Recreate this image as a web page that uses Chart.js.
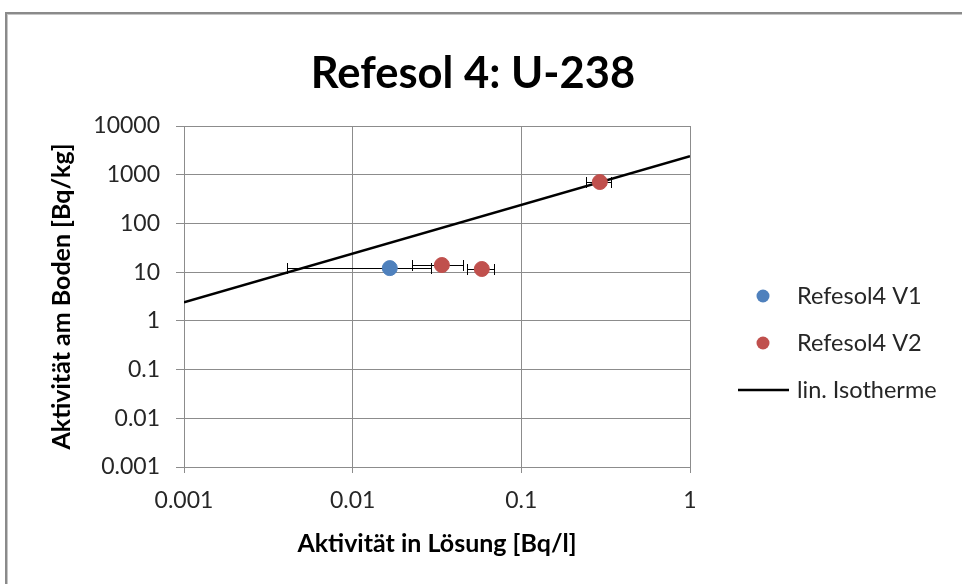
<html><head>
<meta charset="UTF-8">
<title>Refesol 4: U-238</title>
<script src="https://cdn.jsdelivr.net/npm/chart.js"></script>
<style>
html, body {
  margin: 0;
  padding: 0;
  background: #ffffff;
}

#wrap {
  position: relative;
  width: 962px;
  height: 584px;
  overflow: hidden;
}

#wrap canvas {
  position: absolute;
  left: 0;
  top: 0;
}

.frame {
  position: absolute;
  left: 5px;
  top: 12px;
  width: 1200px;
  height: 1200px;
  border-top: 2px solid #8a8a8a;
  border-left: 2px solid #8a8a8a;
  box-shadow: inset 1px 1px 0 #c6c6c6;
  pointer-events: none;
}
</style>
</head>
<body>

<div id="wrap">
  <canvas id="chart" width="962" height="584"></canvas>
  <div class="frame"></div>
</div>

<script>
const FONT = 'Lato, "Open Sans", sans-serif';
const TEXT = '#262626';
const GRID = '#8c8c8c';

const titleText = 'Refesol 4: U-238';
const xTitle = 'Aktivität in Lösung [Bq/l]';
const yTitle = 'Aktivität am Boden [Bq/kg]';

// axis ticks (decades)
const xTicks = [0.001, 0.01, 0.1, 1];
const yTicks = [0.001, 0.01, 0.1, 1, 10, 100, 1000, 10000];

// Refesol4 V1
const v1X = [0.0166];
const v1Y = [12.1];
const v1XErr = [0.0125];

// Refesol4 V2
const v2X = [0.0338, 0.0583, 0.292];
const v2Y = [14.0, 11.6, 708];
const v2XErr = [0.0113, 0.0105, 0.05];

// lin. Isotherme
const isoX = [0.001, 1];
const isoY = [2.4, 2400];

const toPoints = (xs, ys) => xs.map((x, i) => ({ x: x, y: ys[i] }));

// horizontal error bars, drawn under the markers
const errorBars = {
  id: 'errorBars',
  beforeDatasetsDraw(chart) {
    const { ctx, scales: { x, y } } = chart;
    ctx.save();
    ctx.strokeStyle = '#000';
    ctx.lineWidth = 1;
    chart.data.datasets.forEach(ds => {
      if (!ds.xErr) return;
      ds.data.forEach((p, i) => {
        const e = ds.xErr[i];
        const x0 = Math.round(x.getPixelForValue(p.x - e)) + 0.5;
        const x1 = Math.round(x.getPixelForValue(p.x + e)) + 0.5;
        const py = Math.round(y.getPixelForValue(p.y)) + 0.5;
        ctx.beginPath();
        ctx.moveTo(x0, py);
        ctx.lineTo(x1, py);
        ctx.moveTo(x0, py - 5.5);
        ctx.lineTo(x0, py + 5.5);
        ctx.moveTo(x1, py - 5.5);
        ctx.lineTo(x1, py + 5.5);
        ctx.stroke();
      });
    });
    ctx.restore();
  }
};

// title and side legend, placed like the spreadsheet chart
const decor = {
  id: 'decor',
  afterDraw(chart) {
    const { ctx, chartArea } = chart;
    ctx.save();
    ctx.fillStyle = '#000';
    ctx.font = 'bold 43.5px ' + FONT;
    ctx.textAlign = 'center';
    ctx.textBaseline = 'middle';
    ctx.fillText(titleText, 473, 74);

    const boxX = chartArea.right + 48;
    const y0 = chartArea.top + 170;
    ctx.font = '23.5px ' + FONT;
    ctx.textAlign = 'left';
    chart.data.datasets.forEach((ds, i) => {
      const cy = y0 + i * 47;
      if (ds.showLine) {
        ctx.strokeStyle = ds.borderColor;
        ctx.lineWidth = ds.borderWidth;
        ctx.beginPath();
        ctx.moveTo(boxX, cy);
        ctx.lineTo(boxX + 51, cy);
        ctx.stroke();
      } else {
        ctx.fillStyle = ds.backgroundColor;
        ctx.beginPath();
        ctx.arc(boxX + 25, cy, 6.5, 0, Math.PI * 2);
        ctx.fill();
      }
      ctx.fillStyle = TEXT;
      ctx.fillText(ds.label, boxX + 59, cy);
    });
    ctx.restore();
  }
};

new Chart(document.getElementById('chart'), {
  type: 'scatter',
  data: {
    datasets: [
      {
        label: 'Refesol4 V1',
        data: toPoints(v1X, v1Y),
        xErr: v1XErr,
        backgroundColor: '#4f81bd',
        borderColor: '#4f81bd',
        pointRadius: 7.5,
        pointHoverRadius: 7.5
      },
      {
        label: 'Refesol4 V2',
        data: toPoints(v2X, v2Y),
        xErr: v2XErr,
        backgroundColor: '#c0504d',
        borderColor: '#c0504d',
        pointRadius: 7.5,
        pointHoverRadius: 7.5
      },
      {
        label: 'lin. Isotherme',
        data: toPoints(isoX, isoY),
        showLine: true,
        borderColor: '#000',
        borderWidth: 2.5,
        pointRadius: 0,
        pointHoverRadius: 0,
        fill: false
      }
    ]
  },
  options: {
    responsive: false,
    animation: false,
    layout: {
      padding: { top: 126, right: 272, bottom: 0, left: 0 }
    },
    plugins: {
      legend: { display: false },
      title: { display: false },
      tooltip: { enabled: false }
    },
    scales: {
      x: {
        type: 'logarithmic',
        min: 0.001,
        max: 1,
        afterBuildTicks: s => { s.ticks = xTicks.map(v => ({ value: v })); },
        afterFit: s => { s.height = 117; },
        ticks: {
          callback: v => String(v),
          font: { family: FONT, size: 23 },
          color: TEXT,
          padding: 14,
          maxRotation: 0,
          autoSkip: false
        },
        grid: { color: GRID, tickLength: 6 },
        border: { color: GRID },
        title: {
          display: true,
          text: xTitle,
          color: '#000',
          font: { family: FONT, size: 25, weight: 'bold' },
          padding: { top: 0, bottom: 25 }
        }
      },
      y: {
        type: 'logarithmic',
        min: 0.001,
        max: 10000,
        afterBuildTicks: s => { s.ticks = yTicks.map(v => ({ value: v })); },
        afterFit: s => { s.width = 184; },
        ticks: {
          callback: v => String(v),
          font: { family: FONT, size: 23 },
          color: TEXT,
          padding: 16,
          autoSkip: false
        },
        grid: { color: GRID, tickLength: 8 },
        border: { color: GRID },
        title: {
          display: true,
          text: yTitle,
          color: '#000',
          font: { family: FONT, size: 25, weight: 'bold' },
          padding: { top: 47, bottom: 0 }
        }
      }
    }
  },
  plugins: [errorBars, decor]
});
</script>

</body></html>
